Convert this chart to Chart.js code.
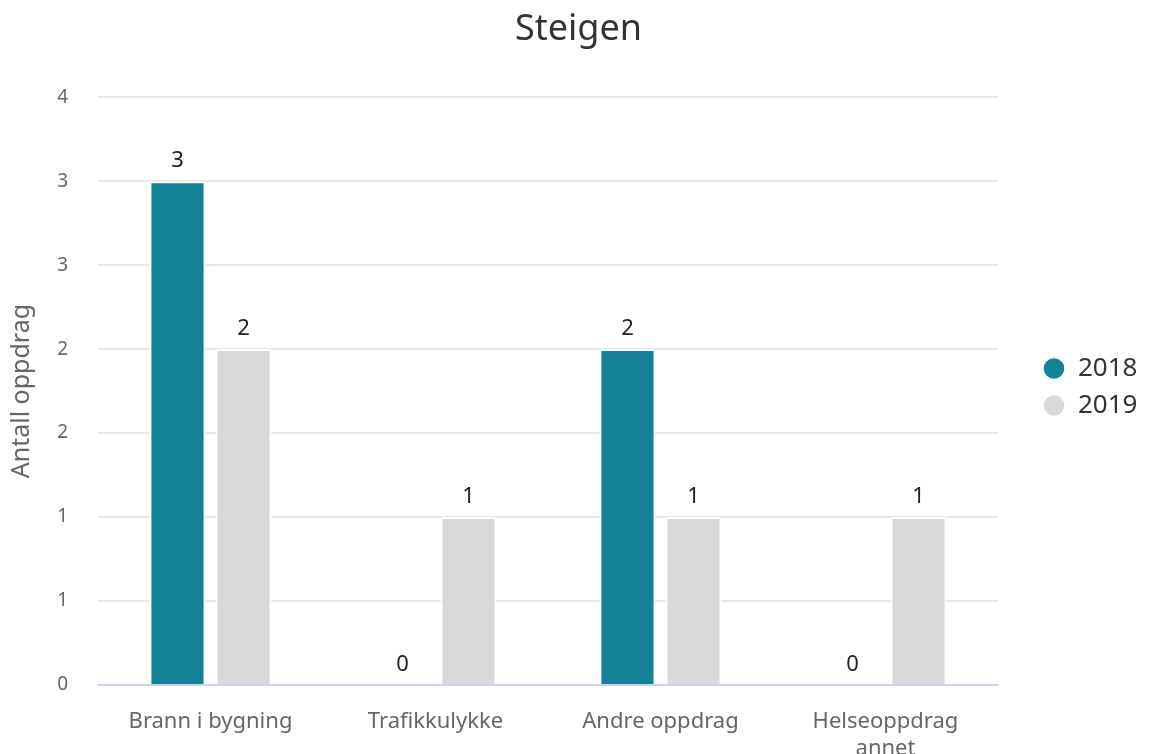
<!DOCTYPE html>
<html>
<head>
<meta charset="utf-8">
<script src="https://cdn.jsdelivr.net/npm/chart.js@4"></script>
<style>
  body { margin: 0; background: #fff; }
  #wrap { width: 1150px; height: 754px; }
</style>
</head>
<body>
<div id="wrap"><canvas id="chart"></canvas></div>
<script>
// data
var categories = ["Brann i bygning", "Trafikkulykke", "Andre oppdrag", ["Helseoppdrag", "annet"]];
var years = ["2018", "2019"];
var values2018 = [3, 0, 2, 0];
var values2019 = [2, 1, 1, 1];
var yTicks = [0, 0.5, 1, 1.5, 2, 2.5, 3, 3.5];

var fontFam = "'Noto Sans', 'DejaVu Sans', sans-serif";

// value labels above each bar
var valueLabels = {
    id: "valueLabels",
    afterDatasetsDraw: function(chart) {
        var ctx = chart.ctx;
        ctx.save();
        ctx.font = "22px " + fontFam;
        ctx.fillStyle = "#222";
        ctx.textAlign = "center";
        ctx.textBaseline = "alphabetic";
        chart.data.datasets.forEach(function(ds, i) {
            var meta = chart.getDatasetMeta(i);
            meta.data.forEach(function(bar, j) {
                ctx.fillText(ds.data[j], bar.x, bar.y - 14);
            });
        });
        ctx.restore();
    }
};

// wider legend column with the items pushed to the right
var legendSpace = {
    id: "legendSpace",
    afterInit: function(chart) {
        var lg = chart.legend;
        var fit = lg.fit;
        lg.fit = function() {
            fit.call(this);
            this.width = 152;
        };
    },
    afterLayout: function(chart) {
        chart.legend.left += 34;
        chart.legend.top += 10;
        chart.legend.bottom += 10;
    }
};

var ctx = document.getElementById("chart");

var chart = new Chart(ctx, {
    type: "bar",
    data: {
        labels: categories,
        datasets: [{
            label: years[0],
            data: values2018,
            backgroundColor: "#138196",
            borderColor: "#fff",
            borderWidth: 2,
            barPercentage: 0.85,
            categoryPercentage: 0.587
        }, {
            label: years[1],
            data: values2019,
            backgroundColor: "#d9d9d9",
            borderColor: "#fff",
            borderWidth: 2,
            barPercentage: 0.85,
            categoryPercentage: 0.587
        }]
    },
    options: {
        responsive: true,
        maintainAspectRatio: false,
        animation: false,
        layout: { padding: { left: 7, right: 0, top: 0, bottom: 0 } },
        plugins: {
            title: {
                display: true,
                text: "Steigen",
                color: "#333",
                font: { family: fontFam, size: 36, weight: "normal" },
                padding: { top: 8, bottom: 46 }
            },
            legend: {
                position: "right",
                labels: {
                    usePointStyle: true,
                    pointStyle: "circle",
                    boxWidth: 22,
                    boxHeight: 16,
                    padding: 11,
                    color: "#333",
                    font: { family: fontFam, size: 26 }
                }
            },
            tooltip: { enabled: false }
        },
        scales: {
            x: {
                afterFit: function(axis) { axis.height = 69; },
                grid: { display: false },
                border: { color: "#ccd6eb", width: 2 },
                ticks: {
                    color: "#666",
                    padding: 16,
                    font: { family: fontFam, size: 22 }
                }
            },
            y: {
                min: 0,
                max: 3.5,
                afterFit: function(axis) { axis.width = 91; },
                afterBuildTicks: function(axis) {
                    axis.ticks = yTicks.map(function(v) { return { value: v }; });
                },
                grid: { color: "#e6e6e6", lineWidth: 2, drawTicks: false },
                border: { display: false },
                ticks: {
                    color: "#666",
                    padding: 30,
                    font: { family: fontFam, size: 19 },
                    callback: function(v) { return Math.round(v); }
                },
                title: {
                    display: true,
                    text: "Antall oppdrag",
                    color: "#666",
                    font: { family: fontFam, size: 25 },
                    padding: { top: 0, bottom: 0 }
                }
            }
        }
    },
    plugins: [valueLabels, legendSpace]
});
</script>
</body>
</html>
